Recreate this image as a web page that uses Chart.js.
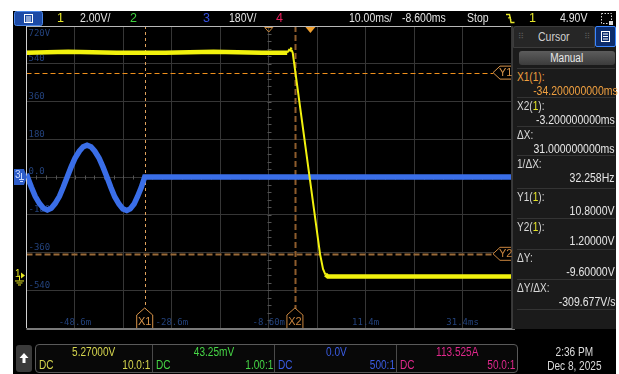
<!DOCTYPE html>
<html lang="en">
<head>
<meta charset="utf-8">
<title>Scope capture</title>
<script src="https://cdn.jsdelivr.net/npm/chart.js@4.4.1/dist/chart.umd.min.js"></script>
<style>
  html, body { margin: 0; padding: 0; background: #fff; }
  body { width: 619px; height: 374px; position: relative; overflow: hidden;
         font-family: 'Liberation Sans', Arial, sans-serif; }
  #screen { position: absolute; left: 13px; top: 11px; width: 603px; height: 363px; background: #000; }
  #scope { position: absolute; left: 0; top: 0; z-index: 1; }
  .t { position: absolute; white-space: nowrap; z-index: 2; }
  /* narrow face: squeeze the regular one */
  .n { display: inline-block; transform: scaleX(0.84); transform-origin: left center; }
  .nr { display: inline-block; transform: scaleX(0.84); transform-origin: right center; }
  .nc { display: inline-block; transform: scaleX(0.84); transform-origin: center center; }
  #topbar .t { top: 11px; line-height: 15px; font-size: 12.5px; color: #e2e2e2; }

  #cursorPanel { position: absolute; left: 512px; top: 26px; width: 103px; height: 303px;
                 background: #1b1b1b; border-left: 1px solid #3a3a3a; z-index: 2; }
  #cpHead { position: absolute; left: 0; top: 0; width: 80px; height: 20px; background: #262626;
            border: 1px solid #3c3c3c; border-radius: 3px 3px 0 0; color: #cfcfcf; font-size: 12.5px;
            line-height: 20px; text-align: center; }
  #cpHead .grip { position: absolute; top: 0; font-size: 8px; color: #5a5a5a; font-family: 'DejaVu Sans'; }
  #cpBtn { position: absolute; left: 82px; top: 0; width: 19px; height: 19px; background: #0c2c6c;
           border: 1px solid #3b86ff; border-radius: 2px; }
  #cpManual { position: absolute; left: 6px; top: 25px; width: 96px; height: 14px; border-radius: 3px;
              background: linear-gradient(#5c5c5c, #3c3c3c); color: #e8e8e8; font-size: 12px;
              line-height: 14px; text-align: center; }
  .row { position: absolute; left: 4px; width: 98px; border-top: 1px solid #343434; }
  .row .lab { font-size: 12px; line-height: 13px; padding-top: 2px; color: #d8d8d8; }
  .row .val { font-size: 12.5px; line-height: 15px; text-align: right; color: #e6e6e6; white-space: nowrap; }

  #chanBox { position: absolute; left: 35px; top: 344px; width: 481px; height: 27px;
             border: 1px solid #5a5a5a; border-radius: 4px; background: #080808; z-index: 2; }
  .cell { position: absolute; top: 0; height: 27px; font-size: 12px; }
  .cell .v { position: absolute; left: 0; right: 0; top: 1px; text-align: center; line-height: 12px; }
  .cell .dc { position: absolute; left: 3px; top: 14px; line-height: 12px; }
  .cell .r { position: absolute; right: 2px; top: 14px; line-height: 12px; }
  .cell + .cell { border-left: 1px solid #4a4a4a; }
  #upBtn { position: absolute; left: 16px; top: 345px; width: 16px; height: 27px; background: #3a3a3a;
           border-radius: 3px; z-index: 2; }
  #clock { position: absolute; left: 538px; top: 345px; width: 72px; text-align: center; color: #dcdcdc;
           font-size: 12px; line-height: 14px; z-index: 2; }
</style>
</head>
<body>
<div id="screen"></div>

<div id="topbar">
  <svg class="t" style="left:14px;top:11px" width="29" height="15">
    <rect x="0.5" y="0.5" width="28" height="14" rx="2" fill="#1c4aa6" stroke="#4a86e8"/>
    <rect x="10.5" y="3.5" width="8" height="8" fill="none" stroke="#fff"/>
    <path d="M12 6H17M12 8H17M12 10H17" stroke="#fff" stroke-width="1"/>
  </svg>
  <span class="t" style="left:57px;color:#e6e62a">1</span>
  <span class="t" style="left:80px"><span class="n">2.00V/</span></span>
  <span class="t" style="left:130px;color:#3ed13e">2</span>
  <span class="t" style="left:203px;color:#3650e0">3</span>
  <span class="t" style="left:229px"><span class="n">180V/</span></span>
  <span class="t" style="left:276px;color:#e8205c">4</span>
  <span class="t" style="left:349px"><span class="n">10.00ms/</span></span>
  <span class="t" style="left:402px"><span class="n">-8.600ms</span></span>
  <span class="t" style="left:467px"><span class="n">Stop</span></span>
  <svg class="t" style="left:505px;top:12px" width="10" height="13">
    <path d="M1 2.5H4.5L6 10.5H9.5" fill="none" stroke="#e6e62a" stroke-width="1.4"/>
    <path d="M3 6L5.3 5.5L5.8 8" fill="none" stroke="#e6e62a" stroke-width="1.2"/>
  </svg>
  <span class="t" style="left:529px;color:#e6e62a">1</span>
  <span class="t" style="left:560px"><span class="n">4.90V</span></span>
  <svg class="t" style="left:600px;top:12px" width="14" height="14">
    <rect x="1.5" y="1.5" width="10" height="10" fill="none" stroke="#ddd" stroke-dasharray="1.5 1.5"/>
    <rect x="9" y="9" width="4" height="4" fill="#ddd"/>
  </svg>
</div>

<canvas id="scope" width="619" height="374"></canvas>

<div id="cursorPanel">
  <div id="cpHead"><span class="grip" style="left:4px">⠿</span><span class="nc">Cursor</span><span class="grip" style="right:4px">⠿</span></div>
  <div id="cpBtn">
    <svg width="19" height="19">
      <rect x="5.5" y="4.5" width="8" height="10" fill="none" stroke="#fff"/>
      <path d="M7 7H12M7 9.5H12M7 12H12" stroke="#fff"/>
    </svg>
  </div>
  <div id="cpManual"><span class="nc">Manual</span></div>
  <div id="cpRows"></div>
</div>

<div id="upBtn">
  <svg width="16" height="27"><path d="M8 8L3.5 13H6.5V18H9.5V13H12.5Z" fill="#fff"/></svg>
</div>
<div id="chanBox">
  <div class="cell" style="left:0;width:116px;color:#d6d64e">
    <div class="v"><span class="nc">5.27000V</span></div><div class="dc"><span class="n">DC</span></div><div class="r"><span class="nr">10.0:1</span></div></div>
  <div class="cell" style="left:116px;width:122px;color:#46d646">
    <div class="v"><span class="nc">43.25mV</span></div><div class="dc"><span class="n">DC</span></div><div class="r"><span class="nr">1.00:1</span></div></div>
  <div class="cell" style="left:238px;width:122px;color:#3a5ce2">
    <div class="v"><span class="nc">0.0V</span></div><div class="dc"><span class="n">DC</span></div><div class="r"><span class="nr">500:1</span></div></div>
  <div class="cell" style="left:360px;width:120px;color:#e0288c">
    <div class="v"><span class="nc">113.525A</span></div><div class="dc"><span class="n">DC</span></div><div class="r"><span class="nr">50.0:1</span></div></div>
</div>
<div id="clock"><span class="nc">2:36 PM</span><br><span class="nc">Dec 8, 2025</span></div>

<script>
// timebase: 10 ms/div, delay -8.6 ms
const timeTicks = [-58.6, -48.6, -38.6, -28.6, -18.6, -8.6, 1.4, 11.4, 21.4, 31.4, 41.4];
const timeLabelAt = [-48.6, -28.6, -8.6, 11.4, 31.4];
const timeLabels = ['-48.6m', '-28.6m', '-8.60m', '11.4m', '31.4ms'];
const delayMs = -8.6;
const trigMs = 0;

// channel 3: 180 V/div, offset 0
const ch3Ticks = [-720, -540, -360, -180, 0, 180, 360, 540, 720];
const ch3LabelAt = [720, 540, 360, 180, 0, -180, -360, -540];
const ch3Labels = ['720V', '540', '360', '180', '0.0', '-180', '-360', '-540'];

// channel 1: 2 V/div, offset 5.27 V
const ch1Offset = 5.27;
const ch1PerDiv = 2.0;

// channel 1 trace (ms, V)
const ch1Time  = [-58.6, -50, -40, -30, -20, -10, -4.8, -4.3, -3.9, -3.65, 1.98, 2.6, 3.1, 3.6, 41.4];
const ch1Volts = [11.85, 11.9, 11.85, 11.85, 11.9, 11.85, 11.85, 12.05, 12.0, 11.85, 1.2, 0.4, 0.1, 0.0, 0.0];

// channel 3 trace (ms, V)
const ch3Time = [-58.6, -58.4, -57.6, -56.8, -55.9, -55.1, -54.3, -53.5, -52.7, -51.8, -51.0,
                 -50.2, -49.4, -48.6, -47.7, -46.9, -46.1, -45.3, -44.5, -43.6, -42.8,
                 -42.0, -41.2, -40.4, -39.5, -38.7, -37.9, -37.2, -36.4, -35.7, -34.9, -34.2, 41.4];
const ch3Volts = [15, 0, -48, -92, -127, -149, -157, -149, -127, -92, -48,
                  0, 47, 89, 123, 144, 152, 144, 123, 89, 47,
                  0, -49, -94, -129, -152, -160, -152, -129, -94, -49, 0, 0];

// cursors: X in ms, Y in volts on channel 1
const cursorX = [-34.2, -3.2];
const cursorY = [10.8, 1.2];

// cursor readout panel
const dX = cursorX[1] - cursorX[0];
const dY = cursorY[1] - cursorY[0];
const readout = [
  ['X1(<span style="color:#f0a040">1</span>):', cursorX[0].toFixed(9) + 'ms', '#f0a040', 68],
  ['X2(<span style="color:#e6e62a">1</span>):', cursorX[1].toFixed(9) + 'ms', null, 97],
  ['ΔX:', dX.toFixed(9) + 'ms', null, 126],
  ['1/ΔX:', (1000 / dX).toFixed(3) + 'Hz', null, 155],
  ['Y1(<span style="color:#e6e62a">1</span>):', cursorY[0].toPrecision(6) + 'V', null, 188],
  ['Y2(<span style="color:#e6e62a">1</span>):', cursorY[1].toPrecision(6) + 'V', null, 218],
  ['ΔY:', dY.toPrecision(6) + 'V', null, 249],
  ['ΔY/ΔX:', (dY / dX * 1000).toFixed(3) + 'V/s', null, 279]
];
document.getElementById('cpRows').innerHTML = readout.map(([lab, val, col, top]) =>
  `<div class="row" style="top:${top - 26}px"><div class="lab"${col ? ` style="color:${col}"` : ''}><span class="n">${lab}</span></div>` +
  `<div class="val"${col ? ` style="color:${col}"` : ''}><span class="nr">${val}</span></div></div>`).join('') +
  '<div class="row" style="top:283px"></div>';

function tagX(ctx, px, bottom, text, color) {
  ctx.beginPath();
  ctx.moveTo(px - 8, bottom); ctx.lineTo(px - 8, bottom - 13); ctx.lineTo(px, bottom - 20);
  ctx.lineTo(px + 8, bottom - 13); ctx.lineTo(px + 8, bottom);
  ctx.fillStyle = '#000'; ctx.fill();
  ctx.setLineDash([]); ctx.lineWidth = 1; ctx.strokeStyle = color; ctx.stroke();
  ctx.fillStyle = color; ctx.font = '11px "Liberation Sans", sans-serif';
  ctx.textAlign = 'center'; ctx.textBaseline = 'middle';
  ctx.fillText(text, px, bottom - 6);
}

function tagY(ctx, right, py, text, color) {
  ctx.beginPath();
  ctx.moveTo(right, py - 6.5); ctx.lineTo(right - 11, py - 6.5); ctx.lineTo(right - 18, py);
  ctx.lineTo(right - 11, py + 6.5); ctx.lineTo(right, py + 6.5);
  ctx.fillStyle = '#000'; ctx.fill();
  ctx.setLineDash([]); ctx.lineWidth = 1; ctx.strokeStyle = color; ctx.stroke();
  ctx.fillStyle = color; ctx.font = '11px "Liberation Sans", sans-serif';
  ctx.textAlign = 'left'; ctx.textBaseline = 'middle';
  ctx.fillText(text, right - 12, py + 0.5);
}

const scopeOverlay = {
  id: 'scopeOverlay',
  beforeDatasetsDraw(chart) {
    const { ctx, chartArea: a } = chart;
    const x = chart.scales.x, y3 = chart.scales.y3, y1 = chart.scales.y1;
    ctx.save();

    // minor ticks on the centre crosshair
    const cx = Math.round(x.getPixelForValue(delayMs)) + 0.5;
    const cy = Math.round(y3.getPixelForValue(0)) + 0.5;
    const dx = (a.right - a.left) / 50, dy = (a.bottom - a.top) / 40;
    ctx.strokeStyle = '#555';
    ctx.lineWidth = 1;
    ctx.beginPath();
    for (let i = 1; i < 50; i++) {
      const px = Math.round(a.left + i * dx) + 0.5;
      ctx.moveTo(px, cy - 2); ctx.lineTo(px, cy + 2);
    }
    for (let i = 1; i < 40; i++) {
      const py = Math.round(a.top + i * dy) + 0.5;
      ctx.moveTo(cx - 2, py); ctx.lineTo(cx + 2, py);
    }
    ctx.stroke();

    // scale labels
    ctx.font = '9px "DejaVu Sans Mono", monospace';
    ctx.fillStyle = '#23427c';
    ctx.textAlign = 'left';
    ch3LabelAt.forEach((v, i) => {
      const py = y3.getPixelForValue(v);
      if (i === 0) { ctx.textBaseline = 'top'; ctx.fillText(ch3Labels[i], a.left + 2, py + 3); }
      else { ctx.textBaseline = 'bottom'; ctx.fillText(ch3Labels[i], a.left + 2, py - 0.5); }
    });
    ctx.textAlign = 'center';
    ctx.textBaseline = 'bottom';
    timeLabelAt.forEach((t, i) => ctx.fillText(timeLabels[i], x.getPixelForValue(t), a.bottom - 1));

    // cursor lines
    const xs = cursorX.map(v => Math.round(x.getPixelForValue(v)) + 0.5);
    const ys = cursorY.map(v => Math.round(y1.getPixelForValue(v)) + 0.5);
    ctx.lineWidth = 1;
    ctx.strokeStyle = '#e0a25c'; ctx.setLineDash([3, 3]);
    ctx.beginPath(); ctx.moveTo(xs[0], a.top); ctx.lineTo(xs[0], a.bottom - 18); ctx.stroke();
    ctx.strokeStyle = '#f0901c'; ctx.setLineDash([5, 3]);
    ctx.beginPath(); ctx.moveTo(a.left, ys[0]); ctx.lineTo(a.right - 18, ys[0]); ctx.stroke();
    ctx.lineWidth = 2;
    ctx.strokeStyle = '#8e5c2c'; ctx.setLineDash([6, 3]);
    ctx.beginPath(); ctx.moveTo(xs[1], a.top); ctx.lineTo(xs[1], a.bottom - 18); ctx.stroke();
    ctx.strokeStyle = '#9a6a38';
    ctx.beginPath(); ctx.moveTo(a.left, ys[1]); ctx.lineTo(a.right - 18, ys[1]); ctx.stroke();
    ctx.restore();
  },
  afterDatasetsDraw(chart) {
    const { ctx, chartArea: a } = chart;
    const x = chart.scales.x, y3 = chart.scales.y3, y1 = chart.scales.y1;
    ctx.save();

    // frame
    ctx.setLineDash([]);
    ctx.strokeStyle = '#b8b8b8'; ctx.lineWidth = 1;
    ctx.beginPath(); ctx.moveTo(a.left, a.top + 0.5); ctx.lineTo(a.right, a.top + 0.5); ctx.stroke();
    ctx.strokeStyle = '#d0d0d0';
    ctx.beginPath(); ctx.moveTo(Math.floor(a.left) + 0.5, a.top); ctx.lineTo(Math.floor(a.left) + 0.5, a.bottom); ctx.stroke();
    ctx.strokeStyle = '#7a7a7a'; ctx.lineWidth = 2;
    ctx.beginPath(); ctx.moveTo(a.left, a.bottom + 1); ctx.lineTo(a.right + 4, a.bottom + 1); ctx.stroke();

    // cursor tags
    tagX(ctx, x.getPixelForValue(cursorX[0]), a.bottom, 'X1', '#d8944a');
    tagX(ctx, x.getPixelForValue(cursorX[1]), a.bottom, 'X2', '#c8843e');
    tagY(ctx, a.right, y1.getPixelForValue(cursorY[0]), 'Y1', '#d8944a');
    tagY(ctx, a.right, y1.getPixelForValue(cursorY[1]), 'Y2', '#c8843e');

    // trigger point and delay reference
    const tx = x.getPixelForValue(trigMs);
    ctx.fillStyle = '#f0a030';
    ctx.beginPath(); ctx.moveTo(tx - 5, a.top + 1); ctx.lineTo(tx + 5, a.top + 1); ctx.lineTo(tx, a.top + 7); ctx.fill();
    const dxp = x.getPixelForValue(delayMs);
    ctx.strokeStyle = '#c88a40'; ctx.lineWidth = 1;
    ctx.beginPath(); ctx.moveTo(dxp - 4, a.top + 1.5); ctx.lineTo(dxp + 4, a.top + 1.5); ctx.lineTo(dxp, a.top + 6); ctx.closePath(); ctx.stroke();

    // channel 3 ground marker
    const g3 = y3.getPixelForValue(0);
    ctx.fillStyle = '#2d5cc8';
    ctx.beginPath();
    ctx.moveTo(14, g3 - 8); ctx.lineTo(24, g3 - 8); ctx.lineTo(27, g3); ctx.lineTo(24, g3 + 8); ctx.lineTo(14, g3 + 8);
    ctx.closePath(); ctx.fill();
    ctx.fillStyle = '#c8d8ff';
    ctx.font = '10px "Liberation Sans", sans-serif';
    ctx.textAlign = 'left'; ctx.textBaseline = 'middle';
    ctx.fillText('3', 15, g3 - 2);
    ctx.strokeStyle = '#c8d8ff';
    ctx.beginPath(); ctx.moveTo(21.5, g3 - 4); ctx.lineTo(21.5, g3 + 2); ctx.moveTo(19, g3 + 2.5); ctx.lineTo(24, g3 + 2.5);
    ctx.moveTo(20, g3 + 4.5); ctx.lineTo(23, g3 + 4.5); ctx.stroke();

    // channel 1 ground marker
    const g1 = y1.getPixelForValue(0);
    ctx.fillStyle = '#e8e820';
    ctx.fillText('1', 15, g1 - 2);
    ctx.beginPath(); ctx.moveTo(21, g1 - 4); ctx.lineTo(25, g1 - 1); ctx.lineTo(21, g1 + 2); ctx.fill();
    ctx.strokeStyle = '#e8e820';
    ctx.beginPath();
    ctx.moveTo(19.5, g1 - 1); ctx.lineTo(19.5, g1 + 4);
    ctx.moveTo(15, g1 + 4.5); ctx.lineTo(24, g1 + 4.5);
    ctx.moveTo(16.5, g1 + 6.5); ctx.lineTo(22.5, g1 + 6.5);
    ctx.moveTo(18, g1 + 8.5); ctx.lineTo(21, g1 + 8.5);
    ctx.stroke();

    ctx.restore();
  }
};

const ctx = document.getElementById('scope');

new Chart(ctx, {
  type: 'line',
  data: {
    datasets: [{
      label: 'Channel 1',
      data: ch1Time.map((t, i) => ({ x: t, y: ch1Volts[i] })),
      yAxisID: 'y1',
      borderColor: '#f2f20e',
      borderWidth: 4,
      pointRadius: 0,
      tension: 0,
      clip: 0,
      segment: {
        borderWidth: c => Math.abs(c.p1.y - c.p0.y) > Math.abs(c.p1.x - c.p0.x) ? 2 : 4.5
      }
    }, {
      label: 'Channel 3',
      data: ch3Time.map((t, i) => ({ x: t, y: ch3Volts[i] })),
      yAxisID: 'y3',
      borderColor: '#3a6ee8',
      borderWidth: 5.5,
      pointRadius: 0,
      tension: 0,
      clip: 0
    }]
  },
  options: {
    responsive: false,
    animation: false,
    events: [],
    layout: { padding: { left: 26.5, right: 108, top: 26, bottom: 46 } },
    plugins: { legend: { display: false }, tooltip: { enabled: false } },
    scales: {
      x: {
        type: 'linear',
        min: timeTicks[0],
        max: timeTicks[timeTicks.length - 1],
        afterBuildTicks: s => { s.ticks = timeTicks.map(v => ({ value: v })); },
        afterFit: s => { s.height = 0; },
        ticks: { display: false },
        grid: { color: '#363636', drawTicks: false },
        border: { display: false }
      },
      y3: {
        type: 'linear',
        position: 'left',
        min: ch3Ticks[0],
        max: ch3Ticks[ch3Ticks.length - 1],
        afterBuildTicks: s => { s.ticks = ch3Ticks.map(v => ({ value: v })); },
        afterFit: s => { s.width = 0; },
        ticks: { display: false },
        grid: { color: '#363636', drawTicks: false },
        border: { display: false }
      },
      y1: {
        type: 'linear',
        display: false,
        min: ch1Offset - 4 * ch1PerDiv,
        max: ch1Offset + 4 * ch1PerDiv
      }
    }
  },
  plugins: [scopeOverlay]
});
</script>
</body>
</html>
